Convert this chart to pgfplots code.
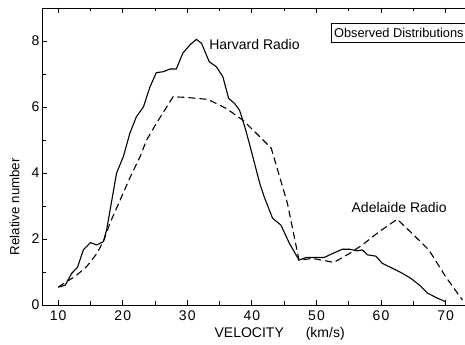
\documentclass[border=0pt]{standalone}
\usepackage{pgfplots}
\pgfplotsset{compat=1.18}
\usepackage{fontspec}
\setmainfont{Liberation Sans}
\newfontfamily\tickfont[LetterSpace=8]{Liberation Sans}
\begin{document}
\begin{tikzpicture}
\begin{axis}[
  scale only axis,
  width=423pt, height=297pt,
  xmin=7.5, xmax=73, ymin=0, ymax=9,
  axis x line*=box, axis y line*=left,
  xtick={10,20,...,70}, minor xtick={15,25,...,65},
  ytick={0,2,4,6,8}, minor ytick={1,3,5,7},
  tick align=inside,
  major tick length=5pt, minor tick length=3.5pt,
  tick style={black, line width=0.8pt},
  axis line style={line width=0.9pt},
  /pgf/number format/assume math mode=true,
  tick label style={font=\tickfont\fontsize{14}{16}\selectfont},
  xticklabel style={yshift=-2pt},
  yticklabel style={xshift=1pt},
  clip=false,
]
\addplot[black, line width=1.1pt] coordinates {
(10.05,0.54) (11.1,0.6) (12.1,0.96) (13,1.14) (13.9,1.67) (15.0,1.89) (16,1.82) (17,1.92) (17.5,2.27)
(19.05,4.0) (20.1,4.5) (21.1,5.2) (22.1,5.7) (23.2,6.0) (24.2,6.6) (25.2,7.04) (26.3,7.07) (27.3,7.15)
(28.3,7.15) (29.3,7.63) (30.4,7.88) (31.4,8.05) (32.2,7.93) (33.4,7.37) (34.5,7.22) (35.5,6.92)
(36.4,6.26) (37.3,6.11) (38.1,5.9) (38.9,5.4) (39.6,4.9) (40.4,4.3) (41.2,3.7) (41.9,3.28) (43.2,2.63)
(44.5,2.42) (45.8,1.87) (47.3,1.36) (48.4,1.44) (51.2,1.44) (52.5,1.56) (54.0,1.69) (55.1,1.69)
(56.3,1.64) (57.1,1.67) (57.9,1.52) (59.2,1.48) (60.2,1.26) (61.8,1.11) (63.3,0.96) (64.6,0.81)
(65.9,0.61) (67.2,0.36) (68.7,0.21) (70,0.1)
};
\addplot[black, line width=1.1pt, dash pattern=on 7pt off 4pt] coordinates {
(10,0.54) (11.3,0.71) (12.6,0.86) (14.4,1.16) (16,1.56) (17.1,1.97) (18.0,2.47) (19.6,3.18)
(21.1,3.85) (22.7,4.5) (23.7,5.0) (25.2,5.5) (26.8,6.0) (27.8,6.31) (29.9,6.29) (33.2,6.23)
(36.0,5.96) (38.6,5.6) (40.7,5.2) (43.0,4.75) (45.5,3.08) (47.3,1.36) (49.4,1.41) (52.7,1.29)
(55.1,1.56) (57.1,1.82) (59.7,2.22) (62.5,2.6) (64.8,2.17) (67.4,1.67) (70,0.86) (72.6,0.15)
};
\node[font=\fontsize{14}{16}\selectfont, anchor=base, inner sep=0pt] at (axis cs:40.4,7.73) {Harvard Radio};
\node[font=\fontsize{14}{16}\selectfont, anchor=base, inner sep=0pt] at (axis cs:62.8,2.79) {Adelaide Radio};
\node[font=\fontsize{14}{16}\selectfont, anchor=base, inner sep=0pt] at (axis cs:44.3,-1.0) {VELOCITY\hspace{22pt}(km/s)};
\node[font=\fontsize{13.3}{15}\selectfont, rotate=90, inner sep=0pt] at (axis cs:3.26,2.98) {Relative number};
\node[draw, line width=0.8pt, anchor=north east, inner xsep=3pt, inner ysep=5pt,
      font=\fontsize{12.8}{14}\selectfont]
  at ([yshift=-15pt,xshift=2pt]rel axis cs:1,1) {Observed Distributions};
\end{axis}
\pgfresetboundingbox
\path ([shift={(-42pt,-40pt)}]current axis.south west) rectangle ([shift={(0pt,8pt)}]current axis.north east);
\end{tikzpicture}
\end{document}
